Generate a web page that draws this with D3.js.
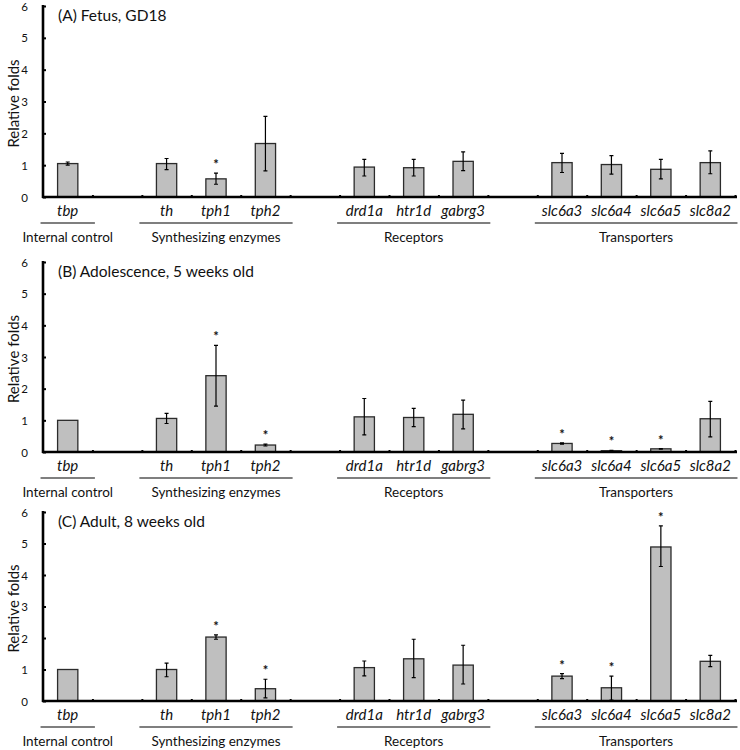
<!DOCTYPE html>
<html lang="en">
<head>
<meta charset="utf-8">
<script src="https://d3js.org/d3.v7.min.js"></script>
<style>
  body { margin: 0; background: #fff; }
  text { font-family: Lato, "Open Sans", sans-serif; fill: #111; }
  .gene { font-style: italic; font-size: 15px; }
  .grp { font-size: 13.5px; }
  .ttl { font-size: 15.5px; }
  .ylab { font-size: 15px; }
  .tick text { font-size: 11.5px; }
</style>
</head>
<body>
<svg id="chart" width="740" height="750"></svg>
<script>
// slots along the x axis, blanks are empty spacers between gene groups
const slots = ["tbp", "_1", "th", "tph1", "tph2", "_2", "drd1a", "htr1d", "gabrg3", "_3",
               "slc6a3", "slc6a4", "slc6a5", "slc8a2"];
const genes = ["tbp", "th", "tph1", "tph2", "drd1a", "htr1d", "gabrg3",
               "slc6a3", "slc6a4", "slc6a5", "slc8a2"];

const groupNames = ["Internal control", "Synthesizing enzymes", "Receptors", "Transporters"];
const groupFirst = ["tbp", "th", "drd1a", "slc6a3"];
const groupLast  = ["tbp", "tph2", "gabrg3", "slc8a2"];

const panelTitles = ["(A) Fetus, GD18", "(B) Adolescence, 5 weeks old", "(C) Adult, 8 weeks old"];
const yTicks = [0, 1, 2, 3, 4, 5, 6];

// mean, error low, error high (null = no error bar)
const meanA = [1.05, 1.05, 0.57, 1.68, 0.94, 0.92, 1.12, 1.08, 1.02, 0.87, 1.08];
const lowA  = [1.00, 0.86, 0.40, 0.82, 0.66, 0.66, 0.83, 0.77, 0.72, 0.57, 0.73];
const highA = [1.10, 1.21, 0.75, 2.53, 1.18, 1.18, 1.42, 1.37, 1.30, 1.18, 1.45];
const starA = [0, 0, 1, 0, 0, 0, 0, 0, 0, 0, 0];

const meanB = [1.00, 1.06, 2.41, 0.22, 1.11, 1.09, 1.19, 0.27, 0.04, 0.10, 1.05];
const lowB  = [null, 0.90, 1.45, 0.19, 0.54, 0.80, 0.73, 0.25, 0.03, 0.09, 0.48];
const highB = [null, 1.22, 3.37, 0.25, 1.69, 1.38, 1.64, 0.29, 0.05, 0.11, 1.60];
const starB = [0, 0, 1, 1, 0, 0, 0, 1, 1, 1, 0];

const meanC = [1.00, 1.00, 2.03, 0.39, 1.06, 1.34, 1.14, 0.79, 0.42, 4.89, 1.26];
const lowC  = [null, 0.77, 1.96, 0.10, 0.80, 0.74, 0.54, 0.71, 0.03, 4.27, 1.09];
const highC = [null, 1.20, 2.10, 0.69, 1.27, 1.96, 1.77, 0.87, 0.79, 5.56, 1.45];
const starC = [0, 0, 1, 1, 0, 0, 0, 1, 1, 1, 0];

const panels = [
  { title: panelTitles[0], mean: meanA, low: lowA, high: highA, star: starA, top: 6, bottom: 197 },
  { title: panelTitles[1], mean: meanB, low: lowB, high: highB, star: starB, top: 262, bottom: 452 },
  { title: panelTitles[2], mean: meanC, low: lowC, high: highC, star: starC, top: 512, bottom: 701 }
];

const svg = d3.select("#chart");
const x = d3.scaleBand().domain(slots).range([43, 735]).padding(0);
const bw = x.bandwidth();
const barW = bw * 0.41;
const cx = g => x(g) + bw / 2;

panels.forEach(function (p) {
  const y = d3.scaleLinear().domain([0, 6]).range([p.bottom, p.top]);
  const g = svg.append("g");

  // bars
  g.selectAll("rect.bar")
    .data(genes)
    .join("rect")
    .attr("class", "bar")
    .attr("x", d => cx(d) - barW / 2)
    .attr("width", barW)
    .attr("y", (d, i) => y(p.mean[i]))
    .attr("height", (d, i) => y(0) - y(p.mean[i]))
    .style("fill", "#bfbfbf")
    .style("stroke", "#2b2b2b")
    .style("stroke-width", 1.3);

  // error bars
  const eb = genes.map((d, i) => ({ gene: d, lo: p.low[i], hi: p.high[i] })).filter(e => e.lo !== null);
  g.selectAll("path.err")
    .data(eb)
    .join("path")
    .attr("class", "err")
    .attr("d", function (e) {
      const c = cx(e.gene), y1 = y(e.hi), y2 = y(e.lo);
      return "M" + (c - 2) + "," + y1 + "H" + (c + 2) +
             "M" + c + "," + y1 + "V" + y2 +
             "M" + (c - 2) + "," + y2 + "H" + (c + 2);
    })
    .style("stroke", "#000")
    .style("stroke-width", 1.2)
    .style("fill", "none");

  // significance stars
  g.selectAll("text.star")
    .data(genes.map((d, i) => ({ gene: d, hi: p.high[i] === null ? p.mean[i] : p.high[i], s: p.star[i] })).filter(e => e.s))
    .join("text")
    .attr("class", "star")
    .attr("x", e => cx(e.gene))
    .attr("y", e => y(e.hi) - 4)
    .attr("text-anchor", "middle")
    .style("font-size", "13px")
    .style("font-weight", "bold")
    .text("*");

  // y axis
  const yAxis = g.append("g")
    .attr("transform", "translate(43,0)")
    .call(d3.axisRight(y).tickValues(yTicks).tickSize(3).tickFormat(d3.format("d")));
  yAxis.select(".domain").remove();
  yAxis.selectAll(".tick line").style("stroke", "#000").style("stroke-width", 2);
  yAxis.selectAll(".tick text").attr("x", -15).attr("text-anchor", "end").attr("dy", "0.35em")
    .style("font-family", "Lato, sans-serif");
  g.append("line")
    .attr("x1", 43).attr("x2", 43)
    .attr("y1", y(6) - 1).attr("y2", y(0) + 1)
    .style("stroke", "#000").style("stroke-width", 2.6);

  // x axis with small boundary ticks
  const xAxis = g.append("g")
    .attr("transform", "translate(0," + y(0) + ")")
    .call(d3.axisTop(d3.scaleLinear().domain([0, slots.length]).range([43, 735]))
      .tickValues(d3.range(1, slots.length + 1)).tickSize(2).tickFormat(""));
  xAxis.select(".domain").remove();
  xAxis.selectAll(".tick line").style("stroke", "#000").style("stroke-width", 2);
  g.append("line")
    .attr("x1", 42).attr("x2", 737)
    .attr("y1", y(0)).attr("y2", y(0))
    .style("stroke", "#000").style("stroke-width", 2.4);

  // gene labels
  g.selectAll("text.gene")
    .data(genes)
    .join("text")
    .attr("class", "gene")
    .attr("x", d => cx(d))
    .attr("y", y(0) + 19)
    .attr("text-anchor", "middle")
    .text(d => d);

  // group underlines and names
  groupNames.forEach(function (name, i) {
    const x1 = cx(groupFirst[i]) - bw * 0.55;
    const x2 = cx(groupLast[i]) + bw * 0.55;
    g.append("line")
      .attr("x1", x1).attr("x2", x2)
      .attr("y1", y(0) + 26).attr("y2", y(0) + 26)
      .style("stroke", "#000").style("stroke-width", 1.2);
    g.append("text")
      .attr("class", "grp")
      .attr("x", (cx(groupFirst[i]) + cx(groupLast[i])) / 2)
      .attr("y", y(0) + 45)
      .attr("text-anchor", "middle")
      .text(name);
  });

  // title
  g.append("text")
    .attr("class", "ttl")
    .attr("x", 58)
    .attr("y", p.top + 15)
    .text(p.title);

  // y label
  g.append("text")
    .attr("class", "ylab")
    .attr("transform", "translate(19," + ((p.top + p.bottom) / 2 + 2) + ") rotate(-90)")
    .attr("text-anchor", "middle")
    .text("Relative folds");
});
</script>
</body>
</html>
